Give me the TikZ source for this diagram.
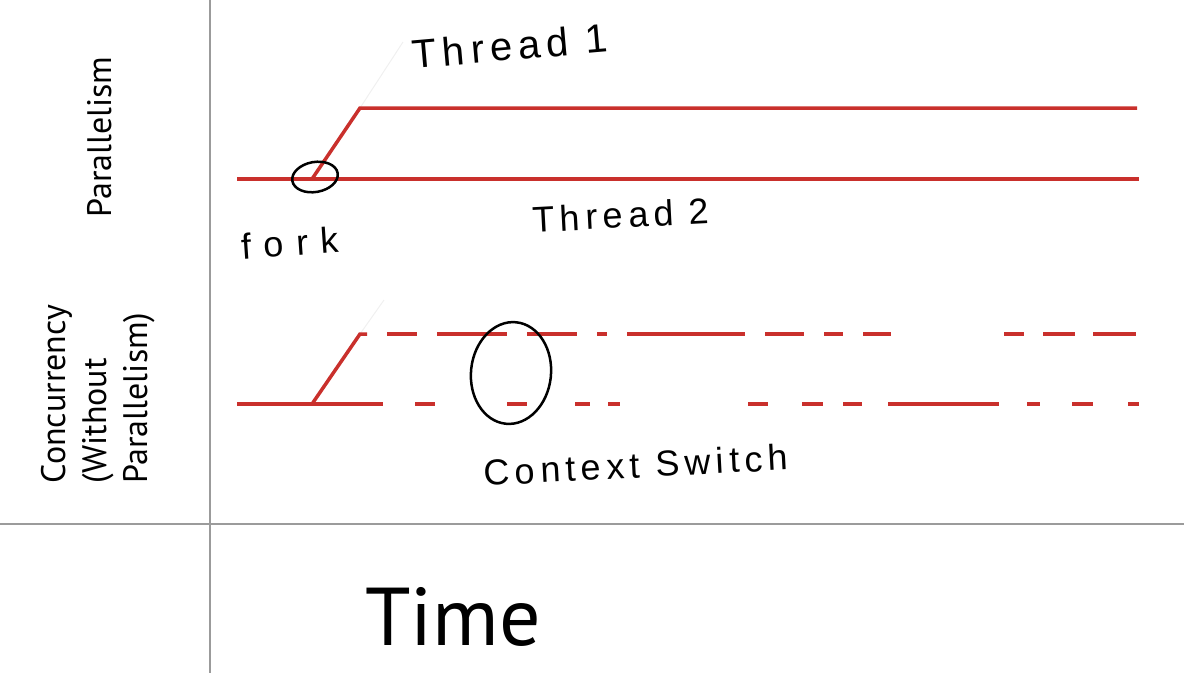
\documentclass[tikz,border=0pt]{standalone}
\usepackage{fontspec}
\setmainfont{Liberation Sans}
\newfontfamily\labelfont{PT Sans}
\newfontfamily\handfont[LetterSpace=15]{Liberation Sans}
\newfontfamily\widehandfont[LetterSpace=35]{Liberation Sans}
\usepackage{tikz}
\usetikzlibrary{shapes.geometric}
\usepackage{xcolor}
\definecolor{threadred}{HTML}{C9302C}
\definecolor{gridgray}{HTML}{9B9B9B}

\begin{document}
\begin{tikzpicture}[
        x=1pt, y=-1pt,
        grid line/.style={draw=gridgray, line width=1.8pt},
        thread/.style={draw=threadred, line width=3.5pt},
        marker/.style={draw=black, line width=2.5pt, ellipse, inner sep=0pt},
        axis label/.style={font=\labelfont\fontsize{34}{41}\selectfont, rotate=90, align=left, inner sep=0pt},
        hand label/.style={font=\handfont\fontsize{36}{40}\selectfont, inner sep=0pt},
        faint/.style={draw=gray!12, line width=1pt}
    ]
        \useasboundingbox (0,0) rectangle (1184,673);
        % Table lines
        \coordinate (vtop) at (210,0);
        \coordinate (vbot) at (210,673);
        \coordinate (hleft) at (0,524);
        \coordinate (hright) at (1184,524);
        \draw[grid line] (vtop) -- (vbot);
        \draw[grid line] (hleft) -- (hright);

        % Row labels
        \node[axis label] (parallel) at (100,137) {Parallelism};
        \node[axis label] (concur) at (98,394) {Concurrency\\(Without\\Parallelism)};
        \node[font=\labelfont\fontsize{82}{90}\selectfont, anchor=base west, inner sep=0pt] (time) at (365,645) {Time};

        % Parallelism: two threads
        \coordinate (pstart) at (237,179);
        \coordinate (pfork) at (312,179);
        \coordinate (pend) at (1139,179);
        \coordinate (pbend) at (360,108);
        \coordinate (ptop) at (1137,108);
        \coordinate (ptail) at (403,42);
        \draw[faint] (pbend) -- (ptail);
        \draw[thread] (pstart) -- (pend);
        \draw[thread] (pfork) -- (pbend) -- (ptop);
        \node[marker, minimum width=46pt, minimum height=30pt, rotate=10] (forkmark) at (315,177) {};
        \node[hand label, font=\handfont\fontsize{40}{44}\selectfont, rotate=5] (thread1) at (510,46) {Thread 1};
        \node[hand label, rotate=3] (thread2) at (621,215) {Thread 2};
        \node[hand label, font=\widehandfont\fontsize{36}{40}\selectfont, rotate=4] (fork) at (290,243) {fork};

        % Concurrency: threads take turns
        \coordinate (cstart) at (237,404);
        \coordinate (cfork) at (312,404);
        \coordinate (cbend) at (360,334);
        \coordinate (cstub) at (367,334);
        \coordinate (ctail) at (384,300);
        \draw[faint] (cbend) -- (ctail);
        \draw[thread] (cfork) -- (cbend) -- (cstub);
        \foreach \a/\b in {387/417, 437/507, 527/577, 597/607, 627/745, 765/804,
                           824/843, 863/891, 1004/1024, 1043/1075, 1093/1136}
            \draw[thread] (\a,334) -- (\b,334);
        \foreach \a/\b in {237/383, 415/435, 507/527, 575/590, 608/620, 748/768,
                           802/823, 843/862, 888/999, 1027/1040, 1072/1093, 1128/1139}
            \draw[thread] (\a,404) -- (\b,404);
        \node[marker, minimum width=80pt, minimum height=102pt, rotate=-6] (switchmark) at (511,373) {};
        \node[hand label, rotate=3] (switch) at (636,465) {Context Switch};

\end{tikzpicture}
\end{document}
